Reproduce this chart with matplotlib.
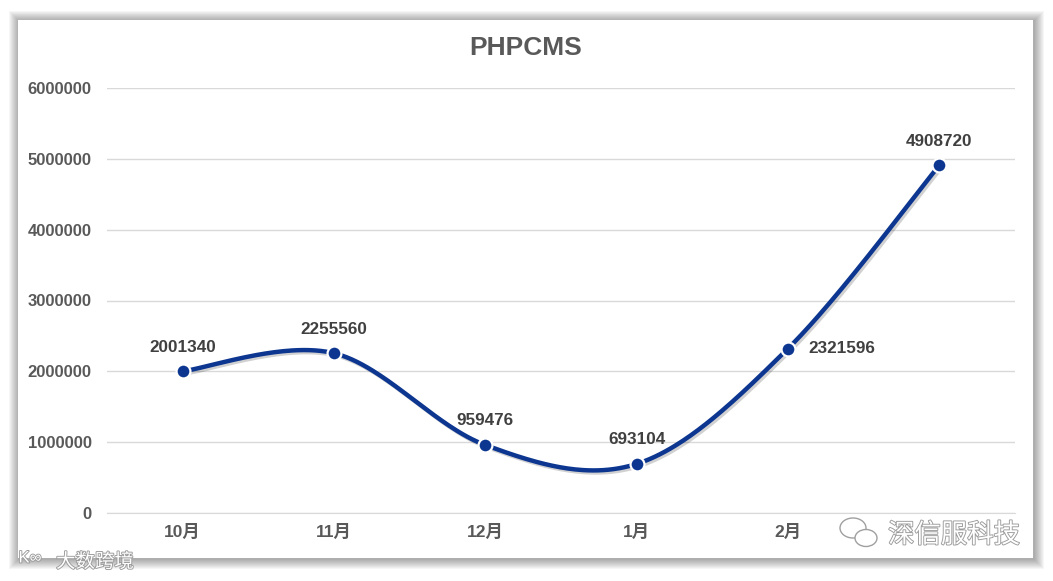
import numpy as np
import matplotlib
matplotlib.use('Agg')
import matplotlib.pyplot as plt
import matplotlib.patheffects as pe
from matplotlib.patches import Rectangle, Ellipse

plt.rcParams['font.family'] = ['Liberation Sans', 'Noto Sans CJK SC', 'DejaVu Sans']

months = ['10月', '11月', '12月', '1月', '2月', '3月']
values = [2001340, 2255560, 959476, 693104, 2321596, 4908720]
yticks = [0, 1000000, 2000000, 3000000, 4000000, 5000000, 6000000]
# label placement: 'up' above the marker, 'right' beside it
label_pos = ['up', 'up', 'up', 'up', 'right', 'up']

W, H = 1053, 581
fig = plt.figure(figsize=(W / 100, H / 100), dpi=100)
fig.patch.set_facecolor('white')

# card with a soft shadow
cx0, cy0, cx1, cy1 = 18, 20, 1033, 558
for g in range(10, 0, -1):
    fig.patches.append(Rectangle(((cx0 - g + 1) / W, 1 - (cy1 + g + 1) / H),
                                 (cx1 - cx0 + 2 * g) / W, (cy1 - cy0 + 2 * g) / H,
                                 transform=fig.transFigure, facecolor='black',
                                 alpha=0.035, edgecolor='none', zorder=0))
fig.patches.append(Rectangle((cx0 / W, 1 - cy1 / H), (cx1 - cx0) / W, (cy1 - cy0) / H,
                             transform=fig.transFigure, facecolor='white',
                             edgecolor='none', zorder=1))

ax = fig.add_axes([107 / W, 1 - 513 / H, (1015 - 107) / W, (513 - 88) / H])
ax.set_facecolor('none')
ax.set_zorder(2)

x = np.arange(len(values))
y = np.array(values, dtype=float)

# Excel-style smoothed line (Catmull-Rom through the data points)
px = np.concatenate([[x[0]], x, [x[-1]]])
py = np.concatenate([[y[0]], y, [y[-1]]])
sx, sy = [], []
t = np.linspace(0, 1, 60)
for i in range(1, len(px) - 2):
    p0, p1, p2, p3 = (px[i - 1], py[i - 1]), (px[i], py[i]), (px[i + 1], py[i + 1]), (px[i + 2], py[i + 2])
    for k in range(2):
        a0, a1, a2, a3 = p0[k], p1[k], p2[k], p3[k]
        c1 = a1 + (a2 - a0) / 6
        c2 = a2 - (a3 - a1) / 6
        seg = (1 - t) ** 3 * a1 + 3 * (1 - t) ** 2 * t * c1 + 3 * (1 - t) * t ** 2 * c2 + t ** 3 * a2
        (sx if k == 0 else sy).extend(seg)

navy = '#0C3690'
ax.plot(sx, sy, color=navy, lw=3.2, solid_capstyle='round', zorder=3,
        path_effects=[pe.SimpleLineShadow(offset=(1.5, -1.5), alpha=0.18), pe.Normal()])
ax.plot(x, y, 'o', color=navy, markersize=10, markeredgecolor='white',
        markeredgewidth=1.6, zorder=4)

for xi, yi, pos in zip(x, y, label_pos):
    if pos == 'up':
        off, ha, va = (0, 12), 'center', 'bottom'
    else:
        off, ha, va = (15, 0), 'left', 'center'
    ax.annotate(f'{int(yi)}', (xi, yi), xytext=off, textcoords='offset points',
                ha=ha, va=va, fontsize=12.3, fontweight='bold', color='#404040', zorder=5)

ax.set_xlim(-0.5, len(values) - 0.5)
ax.set_ylim(0, 6000000)
ax.set_yticks(yticks)
ax.set_yticklabels([str(v) for v in yticks])
ax.set_xticks(x)
# the last month label is hidden under the watermark in the source
ax.set_xticklabels(months[:-1] + [''])
ax.grid(axis='y', color='#D9D9D9', lw=1)
ax.set_axisbelow(True)
for s in ['top', 'right', 'left']:
    ax.spines[s].set_visible(False)
ax.spines['bottom'].set_color('#D9D9D9')
ax.tick_params(axis='y', length=0, labelsize=12, labelcolor='#595959', pad=11)
ax.tick_params(axis='x', length=0, labelsize=12.5, labelcolor='#595959', pad=8)
for lab in ax.get_xticklabels() + ax.get_yticklabels():
    lab.set_fontweight('bold')

fig.text(526 / W, 1 - 48 / H, 'PHPCMS', ha='center', va='center', fontsize=19,
         fontweight='bold', color='#595959', zorder=5)

# watermarks
outline = [pe.withStroke(linewidth=1.3, foreground='#9A9A9A')]
fig.text(954 / W, 1 - 535 / H, '深信服科技', ha='center', va='center', fontsize=19,
         color='white', family=['Noto Sans CJK SC'], path_effects=outline, zorder=6)
for (ex, ey, ew, eh) in [(853, 528, 26, 20), (866, 538, 22, 17)]:
    fig.patches.append(Ellipse((ex / W, 1 - ey / H), ew / W, eh / H,
                               transform=fig.transFigure, facecolor='white',
                               edgecolor='#A0A0A0', lw=1.0, zorder=6))
fig.text(95 / W, 1 - 562 / H, '大数跨境', ha='center', va='center', fontsize=14,
         color='white', family=['Noto Sans CJK SC'], path_effects=outline, zorder=6)
fig.text(30 / W, 1 - 558 / H, 'K∞', ha='center', va='center', fontsize=12,
         color='white', path_effects=outline, zorder=6)

fig.savefig('out.png', dpi=100, facecolor='white')
